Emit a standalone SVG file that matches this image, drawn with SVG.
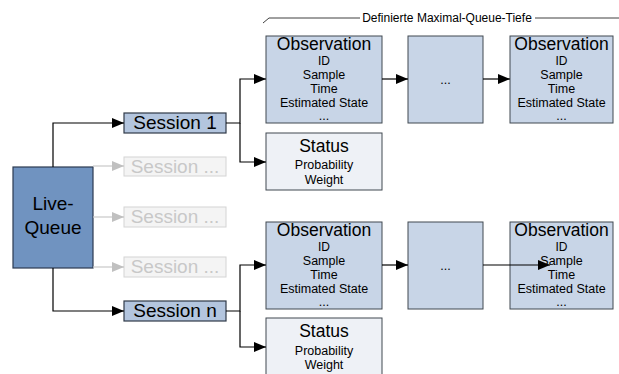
<svg xmlns="http://www.w3.org/2000/svg" width="619" height="374" viewBox="0 0 619 374">
<defs>
<marker id="ah" markerWidth="12" markerHeight="10" refX="12" refY="5" orient="auto" markerUnits="userSpaceOnUse"><path d="M0,0 L12,5 L0,10 Z" fill="#000"/></marker>
<marker id="ahg" markerWidth="12" markerHeight="10" refX="12" refY="5" orient="auto" markerUnits="userSpaceOnUse"><path d="M0,0 L12,5 L0,10 Z" fill="#c0c0c0"/></marker>
<style>
text{font-family:"Liberation Sans",Arial,sans-serif;text-anchor:middle;fill:#000}
.obs{fill:#c8d5e7;stroke:#404850;stroke-width:1}
.stat{fill:#eef1f6;stroke:#404850;stroke-width:1}
.ses{fill:#b3c5de;stroke:#303a48;stroke-width:1.2}
.gses{fill:#f4f4f4;stroke:#d4d4d4;stroke-width:1}
.gt{fill:#c8c8c8}
.t{font-size:17.5px}
.s{font-size:12.5px}
.id{font-size:12px}
.c{fill:none;stroke:#000;stroke-width:1.2}
.cg{fill:none;stroke:#c8c8c8;stroke-width:1.2}
</style>
</defs>
<rect width="619" height="374" fill="#fff"/>
<g id="depth">
<path d="M263,23 L269,18 L360,18 M535,18 L619,18" fill="none" stroke="#404040" stroke-width="1"/>
<text x="447" y="22" style="font-size:12px">Definierte Maximal-Queue-Tiefe</text>
</g>
<g id="live-queue">
<rect x="13" y="167" width="80" height="101" fill="#7093c0" stroke="#2c3a50" stroke-width="1.2"/>
<text x="53" y="210" style="font-size:19px">Live-</text>
<text x="53" y="234" style="font-size:19px">Queue</text>
</g>
<g id="session-1">
<rect class="ses" x="124" y="113" width="102" height="20"/>
<text x="175" y="129" style="font-size:19px">Session 1</text>
</g>
<g id="session-a">
<rect class="gses" x="124" y="157" width="102" height="19"/>
<text class="gt" x="175" y="173" style="font-size:19px">Session ...</text>
</g>
<g id="session-b">
<rect class="gses" x="124" y="207" width="102" height="20"/>
<text class="gt" x="175" y="223" style="font-size:19px">Session ...</text>
</g>
<g id="session-c">
<rect class="gses" x="124" y="257" width="102" height="20"/>
<text class="gt" x="175" y="273" style="font-size:19px">Session ...</text>
</g>
<g id="session-n">
<rect class="ses" x="124" y="301" width="102" height="20"/>
<text x="175" y="317" style="font-size:19px">Session n</text>
</g>
<g id="obs-1a">
<rect class="obs" x="266" y="36" width="116" height="87"/>
<text class="t" x="324" y="50">Observation</text>
<text class="id" x="324" y="65">ID</text>
<text class="s" x="324" y="79">Sample</text>
<text class="s" x="324" y="93">Time</text>
<text class="s" x="324" y="107">Estimated State</text>
<text class="s" x="324" y="120">...</text>
</g>
<g id="mid-1">
<rect class="obs" x="408" y="36" width="75" height="87"/>
<text class="s" x="445.5" y="84">...</text>
</g>
<g id="obs-1b">
<rect class="obs" x="510" y="36" width="103" height="87"/>
<text class="t" x="561.5" y="50">Observation</text>
<text class="id" x="561.5" y="65">ID</text>
<text class="s" x="561.5" y="79">Sample</text>
<text class="s" x="561.5" y="93">Time</text>
<text class="s" x="561.5" y="107">Estimated State</text>
<text class="s" x="561.5" y="120">...</text>
</g>
<g id="status-1">
<rect class="stat" x="266" y="133" width="116" height="57"/>
<text class="t" x="324" y="152">Status</text>
<text class="s" x="324" y="169">Probability</text>
<text class="s" x="324" y="184">Weight</text>
</g>
<g id="obs-na">
<rect class="obs" x="266" y="222" width="116" height="87"/>
<text class="t" x="324" y="236">Observation</text>
<text class="id" x="324" y="251">ID</text>
<text class="s" x="324" y="265">Sample</text>
<text class="s" x="324" y="279">Time</text>
<text class="s" x="324" y="293">Estimated State</text>
<text class="s" x="324" y="306">...</text>
</g>
<g id="mid-n">
<rect class="obs" x="408" y="222" width="75" height="87"/>
<text class="s" x="445.5" y="270">...</text>
</g>
<g id="obs-nb">
<rect class="obs" x="510" y="222" width="103" height="87"/>
<text class="t" x="561.5" y="236">Observation</text>
<text class="id" x="561.5" y="251">ID</text>
<text class="s" x="561.5" y="265">Sample</text>
<text class="s" x="561.5" y="279">Time</text>
<text class="s" x="561.5" y="293">Estimated State</text>
<text class="s" x="561.5" y="306">...</text>
</g>
<g id="status-n">
<rect class="stat" x="266" y="318" width="116" height="57"/>
<text class="t" x="324" y="337">Status</text>
<text class="s" x="324" y="355">Probability</text>
<text class="s" x="324" y="369">Weight</text>
</g>
<g id="connectors">
<path class="c" d="M53,167 V123 H124" marker-end="url(#ah)"/>
<path class="cg" d="M93,166 H124" marker-end="url(#ahg)"/>
<path class="cg" d="M93,217 H124" marker-end="url(#ahg)"/>
<path class="cg" d="M93,267 H124" marker-end="url(#ahg)"/>
<path class="c" d="M53,268 V311 H124" marker-end="url(#ah)"/>
<path class="c" d="M226,123 H240 V79 H266" marker-end="url(#ah)"/>
<path class="c" d="M240,123 V162 H266" marker-end="url(#ah)"/>
<path class="c" d="M382,79 H408" marker-end="url(#ah)"/>
<path class="c" d="M483,79 H510" marker-end="url(#ah)"/>
<path class="c" d="M226,311 H240 V265 H266" marker-end="url(#ah)"/>
<path class="c" d="M240,311 V347 H266" marker-end="url(#ah)"/>
<path class="c" d="M382,265 H408" marker-end="url(#ah)"/>
<path class="c" d="M483,265 H550" marker-end="url(#ah)"/>
</g>
</svg>
